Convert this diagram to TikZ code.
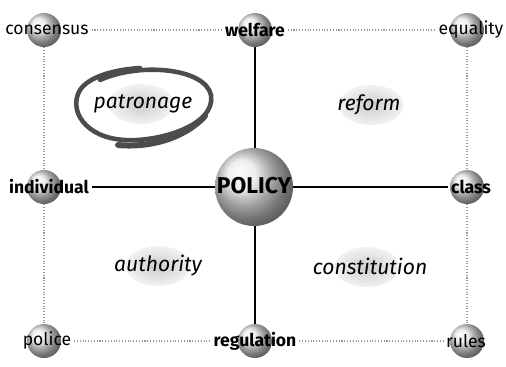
\documentclass[tikz,border=0pt]{standalone}
\usepackage{fontspec}
\setmainfont{Fira Sans}
\usetikzlibrary{shapes.geometric}

\begin{document}
\begin{tikzpicture}[x=0.02cm,y=-0.02cm,
    ball/.style={circle,inner sep=0pt,minimum size=6.8mm,
      shading=ball,ball color=gray!18},
    bigball/.style={ball,minimum size=15.6mm},
    word/.style={inner sep=1.5pt,font=\fontsize{10}{12}\selectfont},
    key/.style={inner sep=1.5pt,font=\fontsize{10}{12}\selectfont\bfseries},
    topic/.style={ellipse,inner sep=0pt,minimum width=13mm,
      minimum height=8mm,inner color=gray!40,outer color=gray!10},
    tag/.style={font=\fontsize{12}{14}\selectfont\itshape},
    dots/.style={gray!80,densely dotted,line width=0.6pt},
    axis/.style={line width=1pt},
    scribble/.style={draw=black!70,line width=2.6pt,line cap=round}]
  \useasboundingbox (0,0) rectangle (506,366);

  % spheres
  \node[ball] (b-cons) at (44,30) {};
  \node[ball] (b-welf) at (255,30) {};
  \node[ball] (b-equa) at (467,30) {};
  \node[ball] (b-indi) at (44,187) {};
  \node[bigball] (b-poli) at (254,187) {};
  \node[ball] (b-clas) at (467,187) {};
  \node[ball] (b-polc) at (44,341) {};
  \node[ball] (b-regu) at (255,341) {};
  \node[ball] (b-rule) at (467,341) {};

  % quadrant topics
  \node[topic] (e-patr) at (141,104) {};
  \node[topic] (e-refo) at (371,105) {};
  \node[topic] (e-auth) at (158,266) {};
  \node[topic] (e-cons) at (367,267) {};

  \draw[scribble] (100,80) .. controls (140,62) and (205,68) .. (211,95)
    .. controls (216,125) and (160,142) .. (125,140)
    .. controls (85,138) and (68,110) .. (80,90)
    .. controls (88,78) and (110,70) .. (140,68);
  \draw[scribble,line width=3.4pt] (205,116) .. controls (185,138) and (150,148) .. (118,145);

  \node[tag] (patr) at (143,104) {patronage};
  \node[tag] (refo) at (369,105) {reform};
  \node[tag] (auth) at (158,266) {authority};
  \node[tag] (cons) at (370,266) {constitution};

  % labels
  \node[word] (consensus) at (47,30) {consensus};
  \node[key] (welfare) at (255,30) {welfare};
  \node[word] (equality) at (471,30) {equality};
  \node[key] (individual) at (49,187) {individual};
  \node[inner sep=1.5pt,font=\fontsize{13}{15}\selectfont\bfseries] (policy) at (254,186) {POLICY};
  \node[key] (class) at (471,187) {class};
  \node[word] (police) at (47,341) {police};
  \node[key] (regulation) at (255,341) {regulation};
  \node[word] (rules) at (466,341) {rules};

  \draw[dots] (consensus.east) -- (welfare.west);
  \draw[dots] (welfare.east) -- (equality.west);
  \draw[dots] (police.east) -- (regulation.west);
  \draw[dots] (regulation.east) -- (rules.west);
  \draw[dots] (b-cons.south) -- (b-indi.north);
  \draw[dots] (b-indi.south) -- (b-polc.north);
  \draw[dots] (b-equa.south) -- (b-clas.north);
  \draw[dots] (b-clas.south) -- (b-rule.north);

  \draw[axis] (b-welf.south) -- (b-welf.south |- b-poli.north);
  \draw[axis] (b-poli.south -| b-regu) -- (b-regu.north);
  \draw[axis] (individual.east) -- (b-poli.west);
  \draw[axis] (b-poli.east) -- (class.west);
\end{tikzpicture}
\end{document}
